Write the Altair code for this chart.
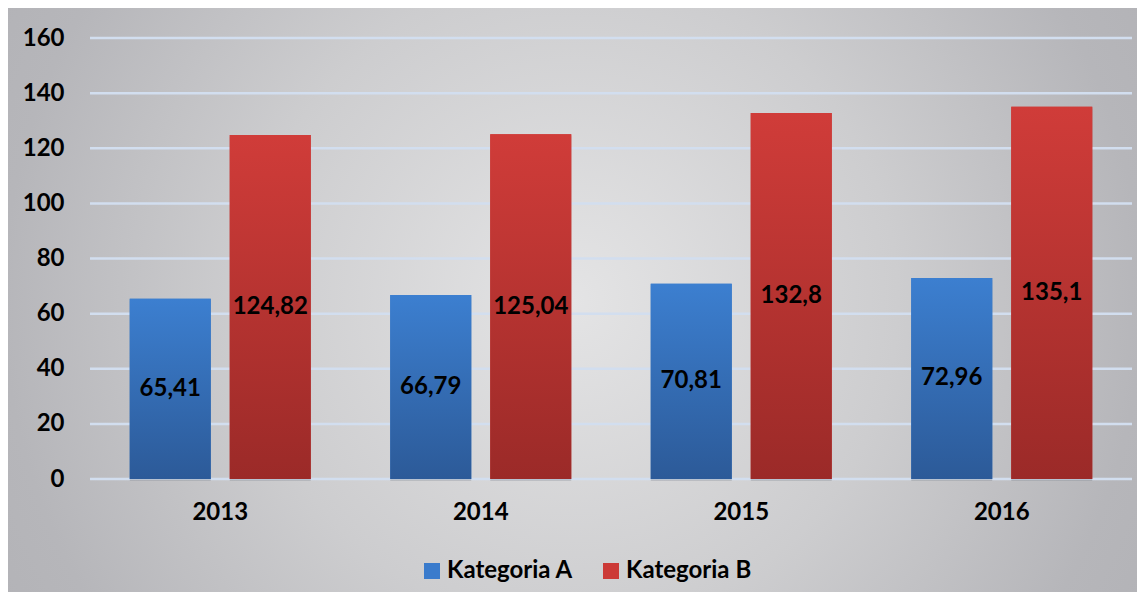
import altair as alt
import pandas as pd

years = ["2013", "2014", "2015", "2016"]
series = ["Kategoria A", "Kategoria B"]
values_a = [65.41, 66.79, 70.81, 72.96]
values_b = [124.82, 125.04, 132.8, 135.1]
y_ticks = [0, 20, 40, 60, 80, 100, 120, 140, 160]

rows = []
for y, a, b in zip(years, values_a, values_b):
    rows.append({"year": y, "series": series[0], "value": a, "label": str(a).replace(".", ",")})
    rows.append({"year": y, "series": series[1], "value": b, "label": str(b).replace(".", ",")})
df = pd.DataFrame(rows)
grid_df = pd.DataFrame({"v": y_ticks})

W, H = 1042, 441
PL, PT, PR, PB = 82, 30, 5, 113
FONT = "Lato"

x_enc = alt.X("year:N", sort=years, title=None,
              scale=alt.Scale(paddingInner=0, paddingOuter=0),
              axis=alt.Axis(labelFont=FONT, labelFontSize=24, labelFontWeight="bold",
                            labelColor="black", domain=False, ticks=False, grid=False,
                            labelPadding=21, labelAngle=0, zindex=2))
xo_enc = alt.XOffset("series:N", sort=series,
                     scale=alt.Scale(domain=series, paddingInner=0.19, paddingOuter=0.3975))
y_scale = alt.Scale(domain=[0, 160], nice=False)
y_axis = alt.Axis(values=y_ticks, labelFont=FONT, labelFontSize=24,
                  labelFontWeight="bold", labelColor="black", domain=False,
                  ticks=False, grid=False, labelPadding=26, zindex=2)
y_enc = alt.Y("value:Q", scale=y_scale, title=None, axis=y_axis)

bg_grad = alt.RadialGradient(
    gradient="radial", x1=0.5, y1=0.5, r1=0, x2=0.5, y2=0.5, r2=0.72,
    stops=[alt.GradientStop(offset=0, color="#e4e4e5"),
           alt.GradientStop(offset=0.4, color="#cdcdcf"),
           alt.GradientStop(offset=0.7, color="#b6b6ba"),
           alt.GradientStop(offset=1, color="#adadb1")])

bg = alt.Chart(alt.Data(values=[{"a": 1}])).mark_rect(fill=bg_grad).encode(
    x=alt.value(-PL), x2=alt.value(W + PR), y=alt.value(-PT), y2=alt.value(H + PB))

grid = alt.Chart(grid_df).mark_rule(color="#d2deef", strokeWidth=2.5).encode(
    y=alt.Y("v:Q", scale=y_scale, title=None, axis=y_axis))

shadow = alt.Chart(df).mark_bar(color="black", opacity=0.12, xOffset=3, yOffset=2).encode(
    x=x_enc, xOffset=xo_enc, y=y_enc)

solid = alt.Chart(df).mark_bar().encode(
    x=x_enc, xOffset=xo_enc, y=y_enc,
    color=alt.Color("series:N", sort=series,
                    scale=alt.Scale(domain=series, range=["#3a7bcc", "#cc3a37"]),
                    legend=alt.Legend(title=None, orient="none", legendX=330, legendY=521,
                                      direction="horizontal", symbolType="square",
                                      symbolSize=256, symbolStrokeWidth=0,
                                      labelFont=FONT, labelFontSize=24,
                                      labelFontWeight="bold", labelColor="black",
                                      labelOffset=3, columnPadding=25)))

def grad(top, bottom):
    return alt.LinearGradient(gradient="linear", x1=0, y1=0, x2=0, y2=1,
                              stops=[alt.GradientStop(offset=0, color=top),
                                     alt.GradientStop(offset=1, color=bottom)])

bars_a = alt.Chart(df).transform_filter(alt.datum.series == series[0]).mark_bar(
    fill=grad("#3c7fd0", "#2c5a98")).encode(x=x_enc, xOffset=xo_enc, y=y_enc)
bars_b = alt.Chart(df).transform_filter(alt.datum.series == series[1]).mark_bar(
    fill=grad("#d03c39", "#9b2a28")).encode(x=x_enc, xOffset=xo_enc, y=y_enc)

labels = alt.Chart(df).transform_calculate(mid="datum.value / 2").mark_text(
    font=FONT, fontSize=24, fontWeight="bold", color="black", baseline="middle",
    align="center").encode(
    x=x_enc, xOffset=xo_enc, y=alt.Y("mid:Q", scale=y_scale, title=None, axis=y_axis),
    text="label:N")

chart = alt.layer(bg, grid, shadow, solid, bars_a, bars_b, labels).properties(
    width=W, height=H,
    padding={"left": PL, "top": PT, "right": PR, "bottom": PB},
    autosize=alt.AutoSizeParams(type="none"),
    background="#c2c2c5",
).configure_view(stroke=None)

chart.save("out.html", embed_options={"renderer": "svg", "actions": False})
